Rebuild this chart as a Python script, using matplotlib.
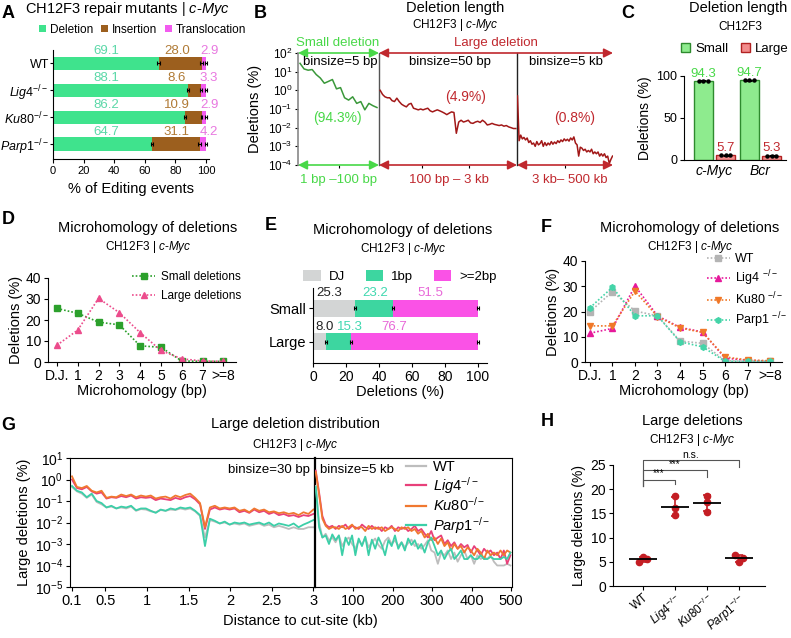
import numpy as np
import matplotlib
matplotlib.use('Agg')
import matplotlib.pyplot as plt
from matplotlib.patches import FancyArrowPatch
from matplotlib.lines import Line2D
from matplotlib.ticker import NullLocator

plt.rcParams['font.family'] = ['Liberation Sans', 'DejaVu Sans']
plt.rcParams['mathtext.fontset'] = 'custom'
plt.rcParams['mathtext.rm'] = 'Liberation Sans'
plt.rcParams['mathtext.it'] = 'Liberation Sans:italic'
plt.rcParams['mathtext.bf'] = 'Liberation Sans:bold'
plt.rcParams['axes.linewidth'] = 0.8
plt.rcParams['axes.facecolor'] = 'none'
plt.rcParams['xtick.major.width'] = 0.8
plt.rcParams['ytick.major.width'] = 0.8
plt.rcParams['xtick.major.size'] = 3
plt.rcParams['ytick.major.size'] = 3
plt.rcParams['xtick.major.pad'] = 2
plt.rcParams['ytick.major.pad'] = 2

# ---------------- data ----------------
# A: repair mutants, % of editing events
a_lines = ['WT', 'Lig4', 'Ku80', 'Parp1']
a_del = [69.1, 88.1, 86.2, 64.7]
a_ins = [28.0, 8.6, 10.9, 31.1]
a_trans = [2.9, 3.3, 2.9, 4.2]
a_del_sd = [1.0, 0.6, 0.6, 0.6]
a_ins_sd = [0.8, 0.5, 0.6, 0.9]
a_trans_sd = [0.6, 0.6, 0.6, 0.7]

# B: deletion length distribution (% per bin)
b_small = [28, 14, 12, 13, 7, 4.6, 2.4, 3.0, 3.8, 1.2, 1.4, 0.4, 0.3, 0.45,
           0.2, 0.25, 0.09, 0.2, 0.15, 0.12]
b_mid = [1.0, 0.6, 0.45, 0.4, 0.4, 0.28, 0.25, 0.38, 0.25, 0.18,
         0.15, 0.13, 0.18, 0.2, 0.11, 0.1, 0.09, 0.1, 0.09, 0.1,
         0.11, 0.08, 0.07, 0.08, 0.09, 0.08, 0.07, 0.06, 0.05, 0.06,
         0.07, 0.065, 0.005, 0.02, 0.025, 0.02, 0.022, 0.025, 0.018, 0.017,
         0.02, 0.022, 0.019, 0.025, 0.02, 0.014, 0.015, 0.017, 0.015, 0.014,
         0.013, 0.014, 0.012, 0.013, 0.011, 0.01, 0.009, 0.009]
b_far = [0.5, 0.002, 0.004, 0.0025, 0.003, 0.0022, 0.0028, 0.0016, 0.002, 0.0013,
         0.0015, 0.001, 0.0018, 0.0012, 0.0014, 0.002, 0.001, 0.0016, 0.0011, 0.0015,
         0.0012, 0.0018, 0.0013, 0.0017, 0.0014, 0.002, 0.0016, 0.0022, 0.0018, 0.0025,
         0.002, 0.0024, 0.0019, 0.0028, 0.0022, 0.0032, 0.0015, 0.0012, 0.0003, 0.0009,
         0.0008, 0.0006, 0.0007, 0.0005, 0.0006, 0.0005, 0.0007, 0.0004, 0.0005, 0.0004,
         0.0005, 0.0003, 0.0004, 0.0003, 0.0004, 0.00025, 0.0003, 0.00012, 0.0002, 0.0003]
b_pct = [94.3, 4.9, 0.8]

# C: small vs large deletions
c_loci = ['c-Myc', 'Bcr']
c_small = [94.3, 94.7]
c_large = [5.7, 5.3]
c_small_sd = [0.4, 0.3]
c_large_sd = [0.5, 0.4]

# D / F: microhomology
mh_cats = ['D.J.', '1', '2', '3', '4', '5', '6', '7', '>=8']
d_small = [25.5, 23.2, 19.0, 17.7, 7.7, 7.0, 0.5, 0.3, 0.3]
d_large = [8.0, 15.2, 30.3, 23.5, 14.0, 5.5, 1.5, 0.5, 0.3]
f_wt = [19.9, 27.9, 20.2, 18.3, 8.3, 7.4, 0.5, 0.3, 0.3]
f_lig4 = [11.4, 13.3, 30.1, 18.3, 13.7, 11.9, 1.5, 0.7, 0.3]
f_ku80 = [14.3, 14.3, 28.1, 18.0, 13.5, 11.7, 2.0, 0.8, 0.5]
f_parp1 = [21.5, 29.6, 18.3, 18.3, 8.0, 6.0, 0.3, 0.2, 0.2]

# E: microhomology classes
e_rows = ['Small', 'Large']
e_dj = [25.3, 8.0]
e_1bp = [23.2, 15.3]
e_2bp = [51.5, 76.7]
e_sd = [0.6, 0.6]

# G: large deletion distribution
g_wt_l = [0.45, 0.28, 0.22, 0.14, 0.2, 0.09, 0.07, 0.05, 0.055, 0.045,
          0.05, 0.045, 0.055, 0.035, 0.042, 0.04, 0.033, 0.03, 0.038, 0.035,
          0.04, 0.038, 0.045, 0.04, 0.045, 0.033, 0.02, 0.002, 0.013, 0.011,
          0.009, 0.01, 0.008, 0.009, 0.008, 0.009, 0.007, 0.008, 0.009, 0.007,
          0.008, 0.006, 0.007, 0.006, 0.005, 0.006, 0.005, 0.005, 0.006, 0.006]
g_lig4_l = [1.0, 0.4, 0.35, 0.45, 0.28, 0.22, 0.25, 0.13, 0.15, 0.14,
            0.17, 0.15, 0.18, 0.13, 0.15, 0.14, 0.15, 0.11, 0.13, 0.12,
            0.11, 0.14, 0.12, 0.15, 0.17, 0.12, 0.07, 0.005, 0.04, 0.05,
            0.04, 0.045, 0.04, 0.045, 0.03, 0.035, 0.028, 0.04, 0.03, 0.035,
            0.025, 0.03, 0.022, 0.025, 0.02, 0.022, 0.018, 0.022, 0.02, 0.025]
g_ku80_l = [1.4, 0.45, 0.4, 0.5, 0.3, 0.25, 0.3, 0.14, 0.16, 0.15,
            0.2, 0.17, 0.2, 0.15, 0.18, 0.16, 0.18, 0.13, 0.15, 0.16,
            0.13, 0.18, 0.15, 0.19, 0.22, 0.14, 0.08, 0.006, 0.05, 0.06,
            0.045, 0.05, 0.045, 0.05, 0.035, 0.04, 0.03, 0.045, 0.035, 0.04,
            0.03, 0.033, 0.027, 0.03, 0.025, 0.028, 0.022, 0.03, 0.025, 0.04]
g_parp1_l = [0.5, 0.3, 0.25, 0.15, 0.22, 0.1, 0.08, 0.05, 0.06, 0.045,
             0.055, 0.05, 0.06, 0.037, 0.045, 0.045, 0.035, 0.028, 0.04, 0.035,
             0.045, 0.04, 0.05, 0.045, 0.05, 0.035, 0.022, 0.0008, 0.015, 0.012,
             0.009, 0.011, 0.008, 0.01, 0.009, 0.01, 0.008, 0.009, 0.01, 0.008,
             0.01, 0.007, 0.009, 0.008, 0.007, 0.009, 0.006, 0.008, 0.01, 0.013]
g_wt_r = [0.5, 0.01, 0.002, 0.003, 0.0015, 0.002, 0.0012, 0.0025, 0.0008, 0.0015,
          0.002, 0.001, 0.0006, 0.0015, 0.0009, 0.002, 0.0007, 0.0012, 0.0018, 0.0009,
          0.0006, 0.0014, 0.002, 0.001, 0.0015, 0.0008, 0.0012, 0.0007, 0.0011, 0.0016,
          0.0008, 0.001, 0.0006, 0.0009, 0.0015, 0.0005, 0.0004, 0.00012, 0.0004, 0.0003,
          0.0005, 0.0002, 0.0004, 0.00015, 0.0003, 0.0005, 0.0002, 0.0003, 0.00012, 0.0003,
          0.0002, 0.00025, 0.0002, 0.0003, 0.00015, 0.0001, 0.0001, 0.0001, 0.00012, 0.0001]
g_lig4_r = [2.6, 0.25, 0.02, 0.008, 0.006, 0.007, 0.005, 0.007, 0.006, 0.008,
            0.005, 0.007, 0.006, 0.005, 0.008, 0.006, 0.005, 0.007, 0.005, 0.006,
            0.004, 0.006, 0.005, 0.007, 0.004, 0.006, 0.005, 0.006, 0.004, 0.005,
            0.007, 0.004, 0.005, 0.003, 0.002, 0.004, 0.0015, 0.002, 0.0025, 0.001,
            0.0015, 0.0008, 0.0012, 0.0006, 0.001, 0.0007, 0.0009, 0.0004, 0.0008, 0.0005,
            0.0003, 0.0006, 0.0004, 0.0005, 0.0003, 0.0004, 0.0002, 0.0005, 0.00012, 0.0003]
g_ku80_r = [2.2, 0.2, 0.015, 0.007, 0.005, 0.006, 0.006, 0.005, 0.007, 0.005,
            0.006, 0.008, 0.005, 0.006, 0.006, 0.004, 0.007, 0.005, 0.006, 0.005,
            0.006, 0.004, 0.005, 0.006, 0.005, 0.004, 0.006, 0.005, 0.006, 0.004,
            0.005, 0.003, 0.004, 0.002, 0.003, 0.0015, 0.002, 0.001, 0.0018, 0.0008,
            0.0012, 0.0005, 0.001, 0.0006, 0.0008, 0.0004, 0.0007, 0.0005, 0.0003, 0.0006,
            0.0004, 0.0002, 0.0005, 0.0003, 0.0004, 0.0003, 0.0005, 0.0003, 0.0005, 0.0004]
g_parp1_r = [0.45, 0.006, 0.002, 0.0025, 0.001, 0.0028, 0.0015, 0.0025, 0.0003, 0.002,
             0.0009, 0.0025, 0.0003, 0.0018, 0.0008, 0.0022, 0.0003, 0.0016, 0.0006, 0.002,
             0.0009, 0.0003, 0.0015, 0.0008, 0.0025, 0.0006, 0.0012, 0.0005, 0.0018, 0.0009,
             0.0015, 0.0006, 0.001, 0.0004, 0.0012, 0.002, 0.0008, 0.0003, 0.0005, 0.0002,
             0.0004, 0.0006, 0.0002, 0.0003, 0.0005, 0.0002, 0.0002, 0.0003, 0.0002, 0.0002,
             0.0003, 0.0002, 0.0002, 0.00025, 0.0002, 0.0002, 0.0002, 0.00025, 0.0002, 0.0004]

# H: large deletions per line (replicates)
h_reps = [[4.9, 5.6, 6.0], [18.5, 16.1, 14.6], [18.6, 17.4, 15.3], [6.4, 5.8, 4.9]]

# ---------------- colours ----------------
C_DEL, C_INS, C_TRA = '#3FE38D', '#9C5F1E', '#F25BEF'
T_DEL, T_INS, T_TRA = '#5BD8A8', '#B07A35', '#E878E0'
GREEN_TXT, RED_TXT = '#48D848', '#C0282E'
GREEN_LN, RED_LN = '#3A983A', '#A21818'
LINE_COLS = {'WT': '#BDBDBD', 'Lig4': '#E8407A', 'Ku80': '#F07830', 'Parp1': '#3CCFA8'}
F_COLS = ['#B4B4B4', '#E6199B', '#F07828', '#44D4A8']
H_RED = '#C41E24'

W, H = 791, 638
fig = plt.figure(figsize=(W / 100, H / 100), dpi=100)


def box(l, t, r, b):
    return fig.add_axes([l / W, 1 - b / H, (r - l) / W, (b - t) / H])


def ftext(x, y, s, **kw):
    kw.setdefault('ha', 'center')
    kw.setdefault('va', 'center')
    fig.text(x / W, 1 - y / H, s, **kw)


def harrow(x0, x1, y, color):
    fig.add_artist(FancyArrowPatch((x0 / W, 1 - y / H), (x1 / W, 1 - y / H),
                                   transform=fig.transFigure,
                                   arrowstyle='<|-|>,head_length=0.6,head_width=0.3',
                                   mutation_scale=9, color=color, lw=1.2,
                                   shrinkA=0, shrinkB=0))


def ko(name):
    return r'$\mathit{' + name + r'}^{-/-}$'


def clean(ax):
    ax.spines['top'].set_visible(False)
    ax.spines['right'].set_visible(False)


sub_myc = r'CH12F3 | $\mathit{c}$-$\mathit{Myc}$'
line_labels = ['WT'] + [ko(n) for n in a_lines[1:]]

# ---------------- A ----------------
ftext(8, 13, 'A', fontsize=13, fontweight='bold')
ftext(127, 9, r'CH12F3 repair mutants | $\mathit{c}$-$\mathit{Myc}$', fontsize=10.5)
ax = box(53, 50, 209, 159)
ya = np.arange(len(a_lines))
d = np.array(a_del)
di = d + np.array(a_ins)
dit = di + np.array(a_trans)
ax.barh(ya, a_del, height=0.5, color=C_DEL, label='Deletion')
ax.barh(ya, a_ins, left=d, height=0.5, color=C_INS, label='Insertion')
ax.barh(ya, a_trans, left=di, height=0.5, color=C_TRA, label='Translocation')
for xs, sd in [(d, a_del_sd), (di, a_ins_sd), (dit, a_trans_sd)]:
    ax.errorbar(xs, ya, xerr=sd, fmt='none', ecolor='k', elinewidth=0.8,
                capsize=1.5, capthick=0.8)
for i in range(len(a_lines)):
    ax.text(35, i - 0.47, f'{a_del[i]:.1f}', color=T_DEL, ha='center', va='center', fontsize=9.5)
    ax.text(81, i - 0.47, f'{a_ins[i]:.1f}', color=T_INS, ha='center', va='center', fontsize=9.5)
    ax.text(102, i - 0.47, f'{a_trans[i]:.1f}', color=T_TRA, ha='center', va='center', fontsize=9.5)
ax.set_xlim(0, 102)
ax.set_ylim(3.55, -0.5)
ax.set_yticks(ya)
ax.set_yticklabels(line_labels, fontsize=9)
ax.tick_params(axis='y', length=2, pad=1)
ax.set_xticks([0, 20, 40, 60, 80, 100])
ax.tick_params(axis='x', labelsize=8)
ax.set_xlabel('% of Editing events', fontsize=10.5, labelpad=4)
clean(ax)
ax.legend(loc='center', bbox_to_anchor=(0.574, 1.185), ncol=3, frameon=False,
          fontsize=8.5, handlelength=0.6, handleheight=0.6, handletextpad=0.3,
          columnspacing=0.7, borderpad=0, borderaxespad=0)

# ---------------- B ----------------
ftext(260, 13, 'B', fontsize=13, fontweight='bold')
ftext(455, 8, 'Deletion length', fontsize=10.5)
ftext(455, 25, sub_myc, fontsize=8.5)
b_boxes = [(298, 379), (379, 517), (517, 613)]
b_vals = [b_small, b_mid, b_far]
b_x = [np.linspace(2.5, 97.5, len(b_small)), np.linspace(125, 2975, len(b_mid)),
       np.linspace(5.5, 497.5, len(b_far))]
b_lim = [(0, 100), (100, 3000), (3, 500)]
b_xt = [[50], [1000, 2000], [250]]
b_axes = []
for k, (l, r) in enumerate(b_boxes):
    ax = box(l, 53, r, 165)
    ax.plot(b_x[k], b_vals[k], color=GREEN_LN if k == 0 else RED_LN, lw=1.1)
    ax.set_yscale('log')
    ax.set_ylim(1e-4, 1e2)
    ax.set_xlim(*b_lim[k])
    ax.yaxis.set_minor_locator(NullLocator())
    ax.spines['top'].set_visible(False)
    ax.spines['bottom'].set_visible(False)
    ax.set_xticks(b_xt[k])
    ax.set_xticklabels([])
    ax.tick_params(axis='x', length=2.5)
    if k > 0:
        ax.spines['left'].set_visible(False)
        ax.tick_params(axis='y', left=False, labelleft=False)
    b_axes.append(ax)
b1, b2, b3 = b_axes
b1.set_yticks([1e-4, 1e-3, 1e-2, 1e-1, 1e0, 1e1, 1e2])
b1.tick_params(axis='y', labelsize=8.5, length=2)
b1.spines['left'].set_color('#888888')
b1.spines['left'].set_linewidth(1.2)
b1.spines['right'].set_color('#555555')
b1.spines['right'].set_linewidth(1.0)
b2.spines['right'].set_color('#222222')
b2.spines['right'].set_linewidth(1.0)
b3.spines['right'].set_visible(False)
b1.set_ylabel('Deletions (%)', fontsize=10.5)
b1.yaxis.set_label_coords(-0.44, 0.5)
harrow(298, 379, 53, GREEN_TXT)
harrow(379, 613, 53, RED_TXT)
harrow(298, 379, 165, GREEN_TXT)
harrow(379, 517, 165, RED_TXT)
harrow(517, 613, 165, RED_TXT)
ftext(338, 43, 'Small deletion', color=GREEN_TXT, fontsize=9.5)
ftext(496, 43, 'Large deletion', color=RED_TXT, fontsize=9.5)
ftext(340, 62, 'binsize=5 bp', fontsize=9.5)
ftext(450, 62, 'binsize=50 bp', fontsize=9.5)
ftext(566, 62, 'binsize=5 kb', fontsize=9.5)
ftext(337, 118, f'({b_pct[0]}%)', color=GREEN_TXT, fontsize=10)
ftext(466, 97, f'({b_pct[1]}%)', color=RED_TXT, fontsize=10)
ftext(575, 118, f'({b_pct[2]}%)', color=RED_TXT, fontsize=10)
ftext(338, 180, '1 bp \u2013100 bp', color=GREEN_TXT, fontsize=9.5)
ftext(449, 180, '100 bp \u2013 3 kb', color=RED_TXT, fontsize=9.5)
ftext(570, 180, '3 kb\u2013 500 kb', color=RED_TXT, fontsize=9.5)

# ---------------- C ----------------
ftext(628, 13, 'C', fontsize=13, fontweight='bold')
ftext(738, 8, 'Deletion length', fontsize=10.5)
ftext(740, 27, 'CH12F3', fontsize=8.5)
ax = box(684, 76, 786, 160)
xc = np.arange(len(c_loci))
ax.bar(xc - 0.24, c_small, 0.41, color='#8EEB8E', edgecolor='#2E8B2E', lw=1, label='Small')
ax.bar(xc + 0.24, c_large, 0.41, color='#F28C8C', edgecolor='#B22222', lw=1, label='Large')
for off, vals, sd in [(-0.24, c_small, c_small_sd), (0.24, c_large, c_large_sd)]:
    ax.errorbar(xc + off, vals, yerr=sd, fmt='none', ecolor='k', elinewidth=0.8,
                capsize=2, capthick=0.8)
    for dx in (-0.1, 0, 0.1):
        ax.plot(xc + off + dx, vals, 'o', color='k', ms=2.2)
for i in range(len(c_loci)):
    ax.text(i - 0.24, c_small[i] + 1.5, f'{c_small[i]:.1f}', color=GREEN_TXT,
            ha='center', va='bottom', fontsize=9.5)
    ax.text(i + 0.24, c_large[i] + 1.5, f'{c_large[i]:.1f}', color=RED_TXT,
            ha='center', va='bottom', fontsize=9.5)
ax.set_xlim(-0.663, 1.554)
ax.set_ylim(0, 100)
ax.set_yticks([0, 50, 100])
ax.tick_params(axis='y', labelsize=9)
ax.set_xticks(xc)
ax.set_xticklabels(c_loci, fontsize=10, fontstyle='italic')
ax.tick_params(axis='x', length=0, pad=3)
ax.set_ylabel('Deletions (%)', fontsize=10, labelpad=3)
clean(ax)
ax.legend(loc='center', bbox_to_anchor=(0.5, 1.32), ncol=2, frameon=False, fontsize=9.5,
          handlelength=0.7, handleheight=0.7, handletextpad=0.4, columnspacing=0.9,
          borderpad=0, borderaxespad=0)

# ---------------- D ----------------
ftext(8, 220, 'D', fontsize=13, fontweight='bold')
ftext(148, 228, 'Microhomology of deletions', fontsize=10.5)
ftext(148, 247, sub_myc, fontsize=8.5)
ax = box(48, 278, 236, 362)
xd = np.arange(len(mh_cats))
ax.plot(xd, d_small, ls=(0, (1, 1.2)), marker='s', color='#2CA02C', ms=4, lw=1.2,
        label='Small deletions')
ax.plot(xd, d_large, ls=(0, (1, 1.2)), marker='^', color='#EC4C8C', ms=4.5, lw=1.2,
        label='Large deletions')
ax.set_xlim(-0.43, 8.61)
ax.set_ylim(0, 40)
ax.set_xticks(xd)
ax.set_xticklabels(mh_cats, fontsize=10)
ax.set_yticks([0, 10, 20, 30, 40])
ax.tick_params(axis='y', labelsize=10)
ax.set_xlabel('Microhomology (bp)', fontsize=10.5, labelpad=1)
ax.set_ylabel('Deletions (%)', fontsize=10.5, labelpad=2)
clean(ax)
ax.legend(loc='upper right', bbox_to_anchor=(1.03, 1.08), frameon=False, fontsize=8.5,
          handlelength=2.0, handletextpad=0.5, labelspacing=0.6, borderpad=0,
          borderaxespad=0)

# ---------------- E ----------------
ftext(271, 226, 'E', fontsize=13, fontweight='bold')
ftext(403, 230, 'Microhomology of deletions', fontsize=10.5)
ftext(403, 249, sub_myc, fontsize=8.5)
ax = box(313, 288, 487, 363)
ye = np.arange(len(e_rows))
e_parts = [(e_dj, '#D3D5D5', 'DJ'), (e_1bp, '#3DD6A0', '1bp'), (e_2bp, '#FA52E6', '>=2bp')]
left = np.zeros(len(e_rows))
for vals, col, lab in e_parts:
    ax.barh(ye, vals, left=left, height=0.5, color=col, label=lab)
    left = left + np.array(vals)
    ax.errorbar(left, ye, xerr=e_sd, fmt='none', ecolor='k', elinewidth=0.8,
                capsize=1.5, capthick=0.8)
e_lab_x = [[10, 38, 71], [7.3, 22.4, 49.5]]
e_lab_c = ['#222222', '#40D8B0', '#E868D8']
for r in range(len(e_rows)):
    for j, (vals, col, lab) in enumerate(e_parts):
        ax.text(e_lab_x[r][j], r - 0.44, f'{vals[r]:.1f}', color=e_lab_c[j],
                ha='center', va='center', fontsize=9.5)
ax.set_xlim(0, 105.5)
ax.set_ylim(1.62, -0.59)
ax.set_yticks(ye)
ax.set_yticklabels(e_rows, fontsize=10.5)
ax.set_xticks([0, 20, 40, 60, 80, 100])
ax.tick_params(axis='x', labelsize=10)
ax.set_xlabel('Deletions (%)', fontsize=10.5, labelpad=1)
clean(ax)
ax.legend(loc='center', bbox_to_anchor=(0.5, 1.15), ncol=3, frameon=False, fontsize=9.5,
          handlelength=1.3, handleheight=0.8, handletextpad=0.6, columnspacing=1.6,
          borderpad=0, borderaxespad=0)

# ---------------- F ----------------
ftext(546, 227, 'F', fontsize=13, fontweight='bold')
ftext(690, 228, 'Microhomology of deletions', fontsize=10.5)
ftext(690, 247, sub_myc, fontsize=8.5)
ax = box(585, 261, 782, 362)
f_series = [f_wt, f_lig4, f_ku80, f_parp1]
f_marks = ['s', '^', 'v', 'h']
f_labels = ['WT', r'Lig4 $^{-/-}$', r'Ku80 $^{-/-}$', r'Parp1 $^{-/-}$']
for vals, col, mk, lab in zip(f_series, F_COLS, f_marks, f_labels):
    ax.plot(xd, vals, ls=(0, (1, 1.2)), marker=mk, color=col, ms=4.5 if mk == 's' else 4,
            lw=1.2, label=lab)
ax.set_xlim(-0.22, 8.53)
ax.set_ylim(0, 40)
ax.set_xticks(xd)
ax.set_xticklabels(mh_cats, fontsize=10)
ax.set_yticks([0, 10, 20, 30, 40])
ax.tick_params(axis='y', labelsize=10)
ax.set_xlabel('Microhomology (bp)', fontsize=10.5, labelpad=1)
ax.set_ylabel('Deletions (%)', fontsize=10.5, labelpad=2)
clean(ax)
ax.legend(loc='upper left', bbox_to_anchor=(0.62, 1.08), frameon=False, fontsize=9,
          handlelength=1.8, handletextpad=0.4, labelspacing=0.25, borderpad=0,
          borderaxespad=0)

# ---------------- G ----------------
ftext(8, 425, 'G', fontsize=13, fontweight='bold')
ftext(295, 424, 'Large deletion distribution', fontsize=10.5)
ftext(295, 445, sub_myc, fontsize=8.5)
axl = box(70, 458, 315, 587)
axr = box(315, 458, 512, 587)
g_left = [g_wt_l, g_lig4_l, g_ku80_l, g_parp1_l]
g_right = [g_wt_r, g_lig4_r, g_ku80_r, g_parp1_r]
g_handles = []
for name, vl, vr in zip(a_lines, g_left, g_right):
    col = LINE_COLS[name]
    axl.plot(np.linspace(0.1, 3.0, len(vl)), vl, color=col, lw=1.3)
    axr.plot(np.linspace(5, 498, len(vr)), vr, color=col, lw=1.3)
    g_handles.append(Line2D([], [], color=col, lw=1.6))
for ax in (axl, axr):
    ax.set_yscale('log')
    ax.set_ylim(1e-5, 1e1)
    ax.yaxis.set_minor_locator(NullLocator())
    ax.tick_params(axis='x', labelsize=10.5)
axl.set_xlim(0.076, 3.02)
axl.set_xticks([0.1, 0.5, 1, 1.5, 2, 2.5, 3])
axl.set_xticklabels(['0.1', '0.5', '1', '1.5', '2', '2.5', '3'])
axl.set_yticks([1e-5, 1e-4, 1e-3, 1e-2, 1e-1, 1e0, 1e1])
axl.tick_params(axis='y', labelsize=10)
axl.spines['right'].set_linewidth(1.6)
axl.set_ylabel('Large deletions (%)', fontsize=10.5, labelpad=3)
axr.set_xlim(3, 502)
axr.set_xticks([100, 200, 300, 400, 500])
axr.spines['left'].set_visible(False)
axr.tick_params(axis='y', left=False, labelleft=False)
ftext(310, 470, 'binsize=30 bp', fontsize=9.5, ha='right')
ftext(320, 470, 'binsize=5 kb', fontsize=9.5, ha='left')
ftext(300, 621, 'Distance to cut-site (kb)', fontsize=10.5)
axr.legend(g_handles, line_labels, loc='upper left', bbox_to_anchor=(0.46, 0.985),
           frameon=False, fontsize=10.5, handlelength=1.4, handletextpad=0.5,
           labelspacing=0.05, borderpad=0, borderaxespad=0)

# ---------------- H ----------------
ftext(547, 422, 'H', fontsize=13, fontweight='bold')
ftext(692, 421, 'Large deletions', fontsize=10.5)
ftext(692, 440, sub_myc, fontsize=8.5)
ax = box(613, 465, 765, 586)
xh = np.arange(len(a_lines))
h_offs = [[-0.12, 0.12, 0.0], [0, 0, 0], [0, 0, 0], [-0.12, 0.12, 0.0]]
for i, reps in enumerate(h_reps):
    m, s = np.mean(reps), np.std(reps, ddof=1)
    ax.errorbar(i, m, yerr=s, fmt='none', ecolor=H_RED, elinewidth=1.2, capsize=3,
                capthick=1.2, zorder=2)
    ax.plot(i + np.array(h_offs[i]), reps, 'o', color=H_RED, ms=4.5, zorder=3)
    ax.hlines(m, i - 0.44, i + 0.44, color='k', lw=1.3, zorder=4)
ax.set_xlim(-0.94, 3.81)
ax.set_ylim(0, 25)
ax.set_yticks([0, 5, 10, 15, 20, 25])
ax.tick_params(axis='y', labelsize=10)
ax.set_xticks(xh)
ax.set_xticklabels(line_labels, fontsize=8.5, rotation=40, ha='right',
                   rotation_mode='anchor')
ax.tick_params(axis='x', pad=1)
ax.set_ylabel('Large deletions (%)', fontsize=10, labelpad=3)
clean(ax)
for x1, ytop, yleg, lab, fs in [(3, 26.0, 24.6, 'n.s.', 7.5), (2, 24.0, 22.6, '***', 7),
                               (1, 22.0, 21.0, '***', 7)]:
    ax.plot([0, 0, x1, x1], [20.6, ytop, ytop, yleg], color='#555555', lw=0.8,
            clip_on=False)
    ax.text(x1 / 2, ytop + (1.0 if lab == 'n.s.' else 0.2), lab, ha='center',
            va='center' if lab == 'n.s.' else 'bottom', fontsize=fs, clip_on=False)

fig.savefig('out.png', dpi=100)
